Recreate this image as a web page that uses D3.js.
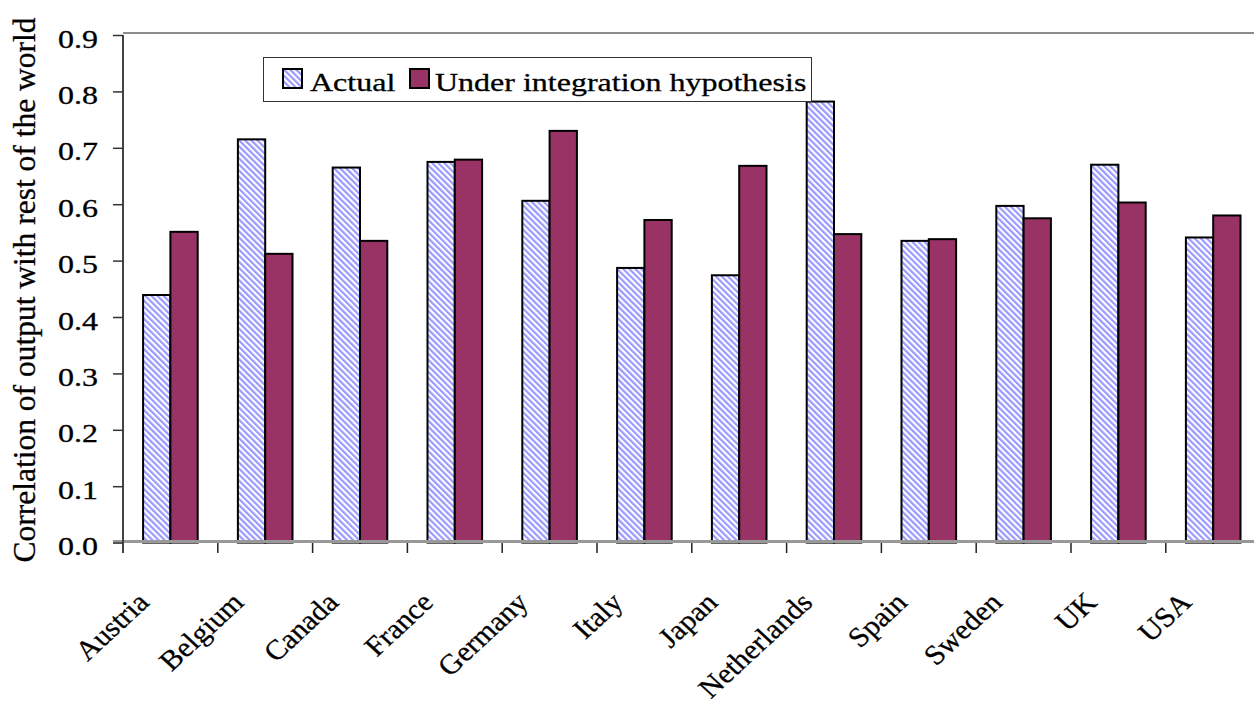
<!DOCTYPE html>
<html>
<head>
<meta charset="utf-8">
<script src="https://cdn.jsdelivr.net/npm/d3@7"></script>
<style>
  html, body { margin: 0; padding: 0; background: #fff; }
  svg { display: block; }
  text { font-family: "Liberation Serif", "Times New Roman", serif; fill: #000; stroke: #000; stroke-width: 0.3px; }
</style>
</head>
<body>
<svg id="chart" width="1254" height="706"></svg>
<script>
const categories = ["Austria","Belgium","Canada","France","Germany","Italy","Japan","Netherlands","Spain","Sweden","UK","USA"];
const actualValues = [0.439,0.715,0.665,0.675,0.606,0.487,0.474,0.782,0.535,0.597,0.670,0.541];
const integrationValues = [0.551,0.512,0.535,0.679,0.730,0.572,0.668,0.547,0.538,0.575,0.603,0.580];
const seriesNames = ["Actual","Under integration hypothesis"];
const yTickValues = [0,0.1,0.2,0.3,0.4,0.5,0.6,0.7,0.8,0.9];
const yTitle = "Correlation of output with rest of the world";

(function(){
const W = 1254, H = 706;
const pLeft = 123, pRight = 1260.6, pTop = 35, pBottom = 542.6;
const FS = 25, STRETCH = 1.28;
const plum = "#993366", stripe = "#9999ff";

const svg = d3.select("#chart");
svg.append("rect").attr("width", W).attr("height", H).attr("fill", "#fff");

const defs = svg.append("defs");
const pat = defs.append("pattern").attr("id","diag")
  .attr("patternUnits","userSpaceOnUse").attr("width",4.3).attr("height",10)
  .attr("patternTransform","rotate(-45)");
pat.append("rect").attr("width",4.3).attr("height",10).attr("fill","#fff");
pat.append("rect").attr("width",2.2).attr("height",10).attr("fill",stripe);

const x = d3.scaleBand().domain(categories).range([pLeft, pRight]).paddingInner(0).paddingOuter(0);
const xs = d3.scaleBand().domain(seriesNames).range([0, x.bandwidth()]).paddingInner(0).paddingOuter(0.736);
const y = d3.scaleLinear().domain([0, 0.9]).range([pBottom, pTop]);

const rows = categories.map((c,i) => ({cat:c, vals:[actualValues[i], integrationValues[i]]}));

// top border
svg.append("line").attr("x1", pLeft).attr("x2", W).attr("y1", 33).attr("y2", 33)
  .attr("stroke","#8c8c8c").attr("stroke-width",2);

// bars
const g = svg.append("g");
rows.forEach(r => {
  r.vals.forEach((v,j) => {
    g.append("rect")
      .attr("x", x(r.cat) + xs(seriesNames[j]))
      .attr("y", y(v))
      .attr("width", xs.bandwidth())
      .attr("height", y(0) - y(v))
      .attr("fill", j === 0 ? "url(#diag)" : plum)
      .attr("stroke", "#000").attr("stroke-width", 2);
  });
});

// x axis line (gray, thick)
svg.append("line").attr("x1", 113).attr("x2", W).attr("y1", 541.5).attr("y2", 541.5)
  .attr("stroke","#999").attr("stroke-width",3);

// x ticks at band boundaries
const boundaries = categories.map(c => x(c)).concat([pRight]);
svg.selectAll(".xt").data(boundaries.filter(b => b <= W)).enter().append("line")
  .attr("x1", d => d).attr("x2", d => d).attr("y1", 543).attr("y2", 553)
  .attr("stroke","#222").attr("stroke-width",1.5);

// y axis
svg.append("line").attr("x1", pLeft).attr("x2", pLeft).attr("y1", pTop).attr("y2", 553)
  .attr("stroke","#444").attr("stroke-width",2);
const yAxis = d3.axisLeft(y).tickValues(yTickValues).tickFormat(d3.format(".1f")).tickSize(10);
const ya = svg.append("g").attr("transform", `translate(${pLeft},0)`).call(yAxis);
ya.select(".domain").remove();
ya.selectAll(".tick line").attr("stroke","#333").attr("stroke-width",1.5);
ya.selectAll(".tick text").each(function(d){
  const t = d3.select(this);
  t.attr("x", null).attr("dy", null).attr("y", null)
   .attr("font-size", FS).attr("font-family", '"Liberation Serif", serif').attr("fill","#000")
   .attr("text-anchor","end")
   .attr("transform", `translate(${98 - pLeft},12) scale(${STRETCH},1)`);
});

// x labels (rotated 45deg)
svg.selectAll(".xl").data(categories).enter().append("text")
  .attr("font-size", 28).attr("text-anchor","end")
  .attr("transform", d => `translate(${x(d) + x.bandwidth()/2 - 20},604) scale(1.08,1) rotate(-45)`)
  .text(d => d);

// y title
svg.append("text").attr("font-size", 31.5).attr("text-anchor","middle")
  .attr("transform", `translate(35,290) rotate(-90)`)
  .text(yTitle);

// legend
const lg = svg.append("g");
lg.append("rect").attr("x",263.5).attr("y",57.5).attr("width",548).attr("height",44)
  .attr("fill","#fff").attr("stroke","#333").attr("stroke-width",1);
const legendItems = [
  {name: seriesNames[0], fill: "url(#diag)", sx: 283, tx: 310},
  {name: seriesNames[1], fill: plum, sx: 410, tx: 435}
];
legendItems.forEach(it => {
  lg.append("rect").attr("x", it.sx).attr("y", 69).attr("width", 19).attr("height", 19)
    .attr("fill", it.fill).attr("stroke","#000").attr("stroke-width",2);
  lg.append("text").attr("font-size", FS)
    .attr("transform", `translate(${it.tx},91) scale(${STRETCH},1)`)
    .text(it.name);
});
})();
</script>
</body>
</html>
